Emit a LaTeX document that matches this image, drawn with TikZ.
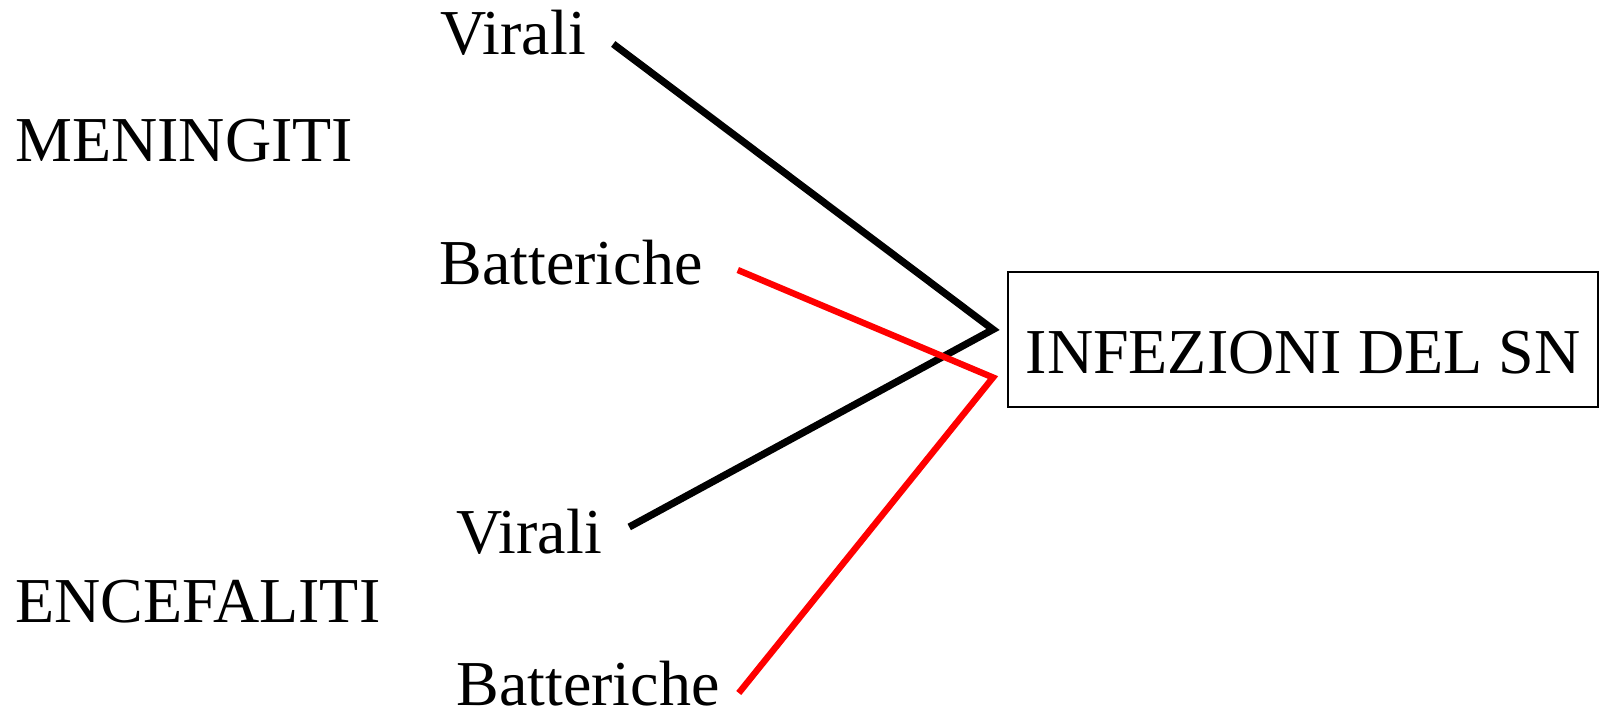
\documentclass[tikz,border=0pt]{standalone}
\usepackage{fontspec}
\setmainfont{Liberation Serif}
\begin{document}
\begin{tikzpicture}[x=0.5pt,y=-0.5pt]
  % Styling
  \tikzset{
    box/.style={
      rectangle,
      draw=black,
      line width=1pt,
      minimum width=295pt,
      minimum height=67.5pt,
      inner sep=0pt,
      text height=33.5pt,
      text depth=0pt,
      font=\fontsize{32}{38}\selectfont
    },
    blackLine/.style={
      line width=3.6pt,
      black
    },
    redLine/.style={
      line width=3.2pt,
      red
    },
    subLabel/.style={
      anchor=base west,
      inner sep=0pt,
      font=\fontsize{32}{38}\selectfont,
      black
    },
    groupLabel/.style={
      anchor=base west,
      inner sep=0pt,
      font=\fontsize{32}{38}\selectfont,
      black
    }
  }
  \useasboundingbox (0,0) rectangle (1600,716);

  % ===== Meningiti =====
  \node[groupLabel] (men) at (15,162) {MENINGITI};
  \node[subLabel] (vir1) at (440,55) {Virali};
  \node[subLabel] (bat1) at (439,285) {Batteriche};

  % ===== Encefaliti =====
  \node[groupLabel] (enc) at (15,622) {ENCEFALITI};
  \node[subLabel] (vir2) at (456,553) {Virali};
  \node[subLabel] (bat2) at (456,705) {Batteriche};

  % Main box
  \node[box] (sn) at (1303,339.5) {INFEZIONI DEL SN};

  % Junctions left of the box
  \coordinate (jb) at ([shift={(-14,-10)}]sn.west);
  \coordinate (jr) at ([shift={(-14,38)}]sn.west);

  % Lines into the box
  \draw[blackLine] ([shift={(27,-11)}]vir1.base east) -- (jb) -- ([shift={(27,-26)}]vir2.base east);
  \draw[redLine] ([shift={(35,-15)}]bat1.base east) -- (jr) -- ([shift={(19,-12)}]bat2.base east);

\end{tikzpicture}
\end{document}
